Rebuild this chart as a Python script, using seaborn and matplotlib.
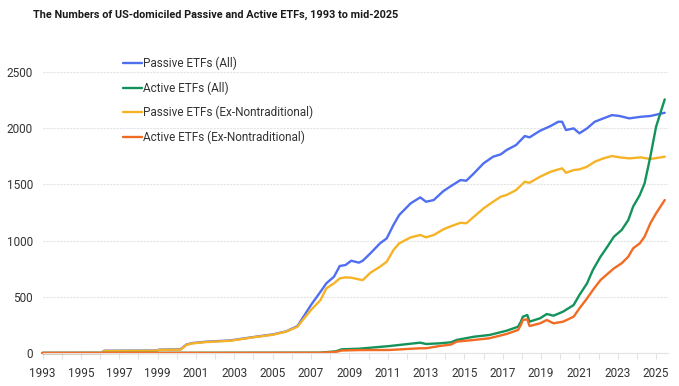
import matplotlib
matplotlib.use('Agg')
import matplotlib.pyplot as plt
import seaborn as sns
import pandas as pd
import numpy as np

# Passive ETFs, values (decimal year)
passive_years = [1993.0, 1996.1, 1996.2, 1998.9, 1999.1, 2000.2, 2000.5, 2000.8, 2001.5, 2002.8,
                 2004.0, 2005.0, 2005.7, 2006.3, 2006.5, 2007.0, 2007.5, 2007.8, 2008.2, 2008.5,
                 2008.8, 2009.1, 2009.5, 2009.7, 2010.1, 2010.6, 2010.95, 2011.3, 2011.6, 2012.2,
                 2012.7, 2013.0, 2013.4, 2013.9, 2014.25, 2014.8, 2015.1, 2015.5, 2016.0, 2016.5,
                 2016.9, 2017.2, 2017.7, 2018.15, 2018.4, 2018.95, 2019.5, 2019.9, 2020.1, 2020.3,
                 2020.7, 2021.0, 2021.4, 2021.8, 2022.25, 2022.7, 2023.1, 2023.6, 2024.2, 2024.7,
                 2025.45]
passive_all = [1, 1, 20, 22, 30, 33, 75, 88, 100, 112,
               142, 165, 192, 240, 294, 427, 546, 620, 679, 774,
               783, 821, 804, 821, 887, 976, 1020, 1139, 1228, 1332,
               1385, 1346, 1361, 1440, 1480, 1539, 1533, 1599, 1688, 1747,
               1768, 1806, 1851, 1931, 1919, 1978, 2020, 2058, 2058, 1984,
               1999, 1955, 1999, 2058, 2088, 2117, 2109, 2088, 2102, 2109,
               2138]
passive_ex = [1, 1, 18, 20, 28, 30, 72, 85, 97, 109,
              140, 162, 190, 234, 279, 383, 472, 575, 620, 664,
              673, 670, 655, 649, 714, 768, 812, 916, 976, 1029,
              1050, 1029, 1050, 1100, 1125, 1159, 1154, 1213, 1287, 1346,
              1391, 1406, 1450, 1524, 1515, 1569, 1613, 1634, 1643, 1604,
              1628, 1634, 1658, 1702, 1732, 1753, 1741, 1732, 1741, 1726,
              1747]

# Active ETFs
active_years = [1993.0, 2007.5, 2008.3, 2008.6, 2009.5, 2011.1, 2012.7, 2013.0, 2013.7, 2014.3,
                2014.6, 2015.5, 2016.3, 2017.2, 2017.8, 2017.95, 2018.05, 2018.28, 2018.4, 2018.95,
                2019.3, 2019.65, 2020.15, 2020.7, 2021.0, 2021.4, 2021.7, 2022.1, 2022.4, 2022.8,
                2023.2, 2023.55, 2023.8, 2024.15, 2024.4, 2024.7, 2025.0, 2025.45]
active_all = [0, 3, 15, 33, 38, 62, 92, 80, 86, 95,
              116, 145, 160, 198, 234, 280, 323, 338, 279, 309,
              347, 332, 368, 427, 516, 620, 738, 857, 931, 1035,
              1094, 1183, 1302, 1406, 1510, 1747, 2014, 2257]
active_ex = [0, 2, 10, 22, 26, 27, 42, 42, 62, 75,
             101, 116, 131, 169, 205, 250, 294, 300, 240, 264,
             294, 264, 279, 323, 397, 486, 560, 649, 694, 753,
             798, 857, 931, 976, 1035, 1154, 1243, 1361]

series_names = ['Passive ETFs (All)', 'Active ETFs (All)',
                'Passive ETFs (Ex-Nontraditional)', 'Active ETFs (Ex-Nontraditional)']
colors = ['#4f6ff0', '#13935a', '#f6b326', '#f26b23']

frames = [
    pd.DataFrame({'year': passive_years, 'count': passive_all, 'series': series_names[0]}),
    pd.DataFrame({'year': active_years, 'count': active_all, 'series': series_names[1]}),
    pd.DataFrame({'year': passive_years, 'count': passive_ex, 'series': series_names[2]}),
    pd.DataFrame({'year': active_years, 'count': active_ex, 'series': series_names[3]}),
]
etfs = pd.concat(frames, ignore_index=True)

sns.set_theme(style='white')
plt.rcParams['font.family'] = ['Roboto', 'DejaVu Sans']

fig = plt.figure(figsize=(6.79, 3.86), dpi=100)
ax = fig.add_axes([0.0627, 0.0855, 0.9205, 0.786])

# draw in order so that active lines sit on top
for name, col in zip([series_names[0], series_names[2], series_names[1], series_names[3]],
                     [colors[0], colors[2], colors[1], colors[3]]):
    d = etfs[etfs['series'] == name]
    sns.lineplot(data=d, x='year', y='count', color=col, linewidth=1.7,
                 ax=ax, label=name, clip_on=False, estimator=None, sort=True)

# Axes
ax.set_xlim(1993, 2025.6)
ax.set_ylim(0, 2700)
ax.set_yticks(np.arange(0, 2501, 500))
ax.set_xticks(np.arange(1993, 2026, 2))
ax.set_xticks(np.arange(1993, 2026, 1), minor=True)
ax.set_xlabel('')
ax.set_ylabel('')
ax.yaxis.grid(True, color='#e3e3e3', linewidth=0.8, linestyle=(0, (2, 1)))
for s in ['top', 'right', 'left']:
    ax.spines[s].set_visible(False)
ax.spines['bottom'].set_color('#e3e3e3')
ax.spines['bottom'].set_linewidth(0.8)
ax.tick_params(axis='x', which='both', bottom=True, length=4, width=0.8, color='#e3e3e3',
               labelsize=8.5, labelcolor='#333333', pad=6)
ax.tick_params(axis='y', left=False, length=0, labelsize=8.5, labelcolor='#333333', pad=7)

# Legend
h, l = ax.get_legend_handles_labels()
order = [l.index(n) for n in series_names]
ax.legend([h[i] for i in order], [l[i] for i in order], loc='upper left',
          bbox_to_anchor=(0.112, 1.012), frameon=False, fontsize=8.5,
          handlelength=1.6, handletextpad=0.05, labelspacing=0.95, labelcolor='#333333')

# Title
fig.text(0.049, 0.962, 'The Numbers of US-domiciled Passive and Active ETFs, 1993 to mid-2025',
         fontsize=7.8, fontweight='bold', color='#1a1a1a', ha='left', va='center')

plt.savefig('out.png', dpi=100)
